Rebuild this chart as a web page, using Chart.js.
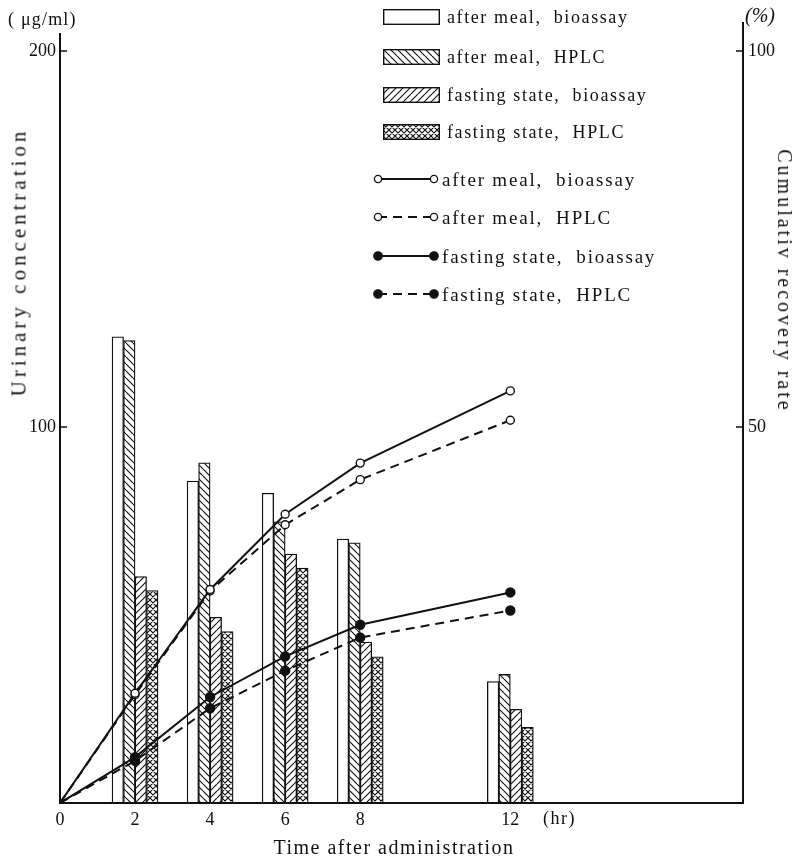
<!DOCTYPE html>
<html>
<head>
<meta charset="utf-8">
<script src="https://cdn.jsdelivr.net/npm/chart.js@4"></script>
<style>
  body { margin: 0; background: #fff; }
  #wrap { position: relative; width: 797px; height: 859px; font-family: "Liberation Serif", "DejaVu Serif", serif; color: #111; }
  #chart { position: absolute; left: 0; top: 0; }
  .txt { position: absolute; white-space: pre; line-height: 1; font-size: 18px; }
  .rot { transform: translate(-50%, -50%) rotate(-90deg); }
  .rot-r { transform: translate(-50%, -50%) rotate(90deg); }
  .row { position: absolute; display: flex; align-items: center; white-space: pre; line-height: 1; }
  .row canvas { display: block; }
</style>
</head>
<body>
<div id="wrap">
  <canvas id="chart" width="797" height="859"></canvas>
  <div class="txt" style="left:8px; top:10px; letter-spacing:1.2px;">( μg/ml)</div>
  <div class="txt" style="left:745px; top:5px; font-size:20px; font-style:italic;">(%)</div>
  <div class="txt" style="left:543px; top:809px; letter-spacing:1.5px;">(hr)</div>
  <div class="txt" style="left:394px; top:847px; transform:translate(-50%,-50%); font-size:20px; letter-spacing:1.5px;">Time after administration</div>
  <div class="txt rot" style="left:19px; top:262px; font-size:21px; letter-spacing:4px;">Urinary concentration</div>
  <div class="txt rot-r" style="left:785px; top:281px; font-size:20px; letter-spacing:3px;">Cumulativ recovery rate</div>
  <div id="legend"></div>
</div>
<script>
// Urinary concentration (µg/ml) per collection time, left axis
const hours = [2, 4, 6, 8, 12];
const mealBioassay = [124.0, 85.6, 82.4, 70.2, 32.3];
const mealHplc = [123.0, 90.5, 74.8, 69.2, 34.2];
const fastingBioassay = [60.2, 49.4, 66.2, 42.8, 24.9];
const fastingHplc = [56.5, 45.6, 62.5, 38.9, 20.1];

// Cumulative recovery rate (%), right axis
const recoveryHours = [0, 2, 4, 6, 8, 12];
const mealBioassayRate = [0, 14.6, 28.4, 38.4, 45.2, 54.8];
const mealHplcRate = [0, 14.4, 28.2, 37.0, 43.0, 50.9];
const fastingBioassayRate = [0, 6.1, 14.1, 19.5, 23.7, 28.0];
const fastingHplcRate = [0, 5.6, 12.6, 17.6, 22.0, 25.6];

const xTicks = [0, 2, 4, 6, 8, 12];
const concTicks = [100, 200];
const rateTicks = [50, 100];
const seriesNames = ['after meal, bioassay', 'after meal, HPLC', 'fasting state, bioassay', 'fasting state, HPLC'];

const INK = '#111';
const serif = '"Liberation Serif", "DejaVu Serif", serif';

// hatch fills: none, "\\", "//", cross
function makePattern(kind) {
  const s = kind === 'cross' ? 6 : 7;
  const c = document.createElement('canvas');
  c.width = s; c.height = s;
  const g = c.getContext('2d');
  g.fillStyle = '#fff';
  g.fillRect(0, 0, s, s);
  if (kind !== 'none') {
    g.strokeStyle = INK;
    g.lineWidth = 1.15;
    g.beginPath();
    for (const o of [-s, 0, s]) {
      if (kind === 'back' || kind === 'cross') { g.moveTo(o, 0); g.lineTo(o + s, s); }
      if (kind === 'fwd' || kind === 'cross') { g.moveTo(o, s); g.lineTo(o + s, 0); }
    }
    g.stroke();
  }
  return g.createPattern(c, 'repeat');
}
const hatchKinds = ['none', 'back', 'fwd', 'cross'];
const fills = hatchKinds.map(makePattern);

const barValues = [mealBioassay, mealHplc, fastingBioassay, fastingHplc];
const barSets = barValues.map((vals, i) => ({
  type: 'bar',
  label: seriesNames[i],
  data: hours.map((h, j) => ({ x: h, y: vals[j] })),
  backgroundColor: fills[i],
  borderColor: INK,
  borderWidth: 1.3,
  borderSkipped: 'bottom',
  barThickness: 11.5,
  yAxisID: 'y',
  order: 1
}));

const lineStyles = [
  { vals: mealBioassayRate, open: true, dash: [] },
  { vals: mealHplcRate, open: true, dash: [9, 6] },
  { vals: fastingBioassayRate, open: false, dash: [] },
  { vals: fastingHplcRate, open: false, dash: [9, 6] }
];
const lineSets = lineStyles.map((st, i) => ({
  type: 'line',
  label: seriesNames[i],
  data: recoveryHours.map((h, j) => ({ x: h, y: st.vals[j] })),
  borderColor: INK,
  borderWidth: 2,
  borderDash: st.dash,
  pointBackgroundColor: st.open ? '#fff' : INK,
  pointBorderColor: INK,
  pointBorderWidth: 1.4,
  pointRadius: ctx => (ctx.raw && ctx.raw.x === 0 ? 0 : (st.open ? 4 : 4.5)),
  tension: 0,
  yAxisID: 'y2',
  order: 0
}));

// axis lines, inward tick marks, dashed edge between the after-meal bars
const frame = {
  id: 'frame',
  afterDatasetDraw(chart, args) {
    if (args.index !== 0) return;
    const m0 = chart.getDatasetMeta(0).data;
    const m1 = chart.getDatasetMeta(1).data;
    const ctx = chart.ctx;
    ctx.save();
    ctx.strokeStyle = '#fff';
    ctx.lineWidth = 2.2;
    ctx.setLineDash([4, 8]);
    m1.forEach((el, i) => {
      const x = el.x - el.width / 2;
      const top = Math.max(el.y, m0[i].y) + 3;
      ctx.beginPath();
      ctx.moveTo(x, chart.chartArea.bottom - 2);
      ctx.lineTo(x, top);
      ctx.stroke();
    });
    ctx.restore();
  },
  afterDraw(chart) {
    const { ctx, chartArea: a, scales } = chart;
    ctx.save();
    ctx.strokeStyle = INK;
    ctx.lineWidth = 2;
    ctx.beginPath();
    ctx.moveTo(a.left, a.top - 18);
    ctx.lineTo(a.left, a.bottom);
    ctx.lineTo(a.right, a.bottom);
    ctx.lineTo(a.right, a.top - 29);
    ctx.stroke();
    ctx.lineWidth = 1.5;
    ctx.beginPath();
    concTicks.forEach(v => {
      const y = scales.y.getPixelForValue(v);
      ctx.moveTo(a.left, y); ctx.lineTo(a.left + 7, y);
    });
    rateTicks.forEach(v => {
      const y = scales.y2.getPixelForValue(v);
      ctx.moveTo(a.right, y); ctx.lineTo(a.right - 7, y);
    });
    ctx.stroke();
    ctx.restore();
  }
};

const tickFont = { family: serif, size: 18 };
const noGrid = { display: false, drawTicks: false };

new Chart(document.getElementById('chart'), {
  type: 'bar',
  data: { datasets: [...lineSets, ...barSets] },
  options: {
    responsive: false,
    animation: false,
    devicePixelRatio: 1,
    layout: { padding: { top: 51, left: 0, right: 0, bottom: 0 } },
    plugins: { legend: { display: false }, tooltip: { enabled: false } },
    scales: {
      x: {
        type: 'linear', min: 0, max: 18.2, offset: false,
        grid: noGrid, border: { display: false },
        afterBuildTicks: s => { s.ticks = xTicks.map(v => ({ value: v })); },
        ticks: { font: tickFont, color: INK, padding: 6, maxRotation: 0, autoSkip: false },
        afterFit: s => { s.height = 56; }
      },
      y: {
        position: 'left', min: 0, max: 200,
        grid: noGrid, border: { display: false },
        afterBuildTicks: s => { s.ticks = concTicks.map(v => ({ value: v })); },
        ticks: { font: tickFont, color: INK, padding: 4 },
        afterFit: s => { s.width = 60; }
      },
      y2: {
        position: 'right', min: 0, max: 100,
        grid: noGrid, border: { display: false },
        afterBuildTicks: s => { s.ticks = rateTicks.map(v => ({ value: v })); },
        ticks: { font: tickFont, color: INK, padding: 5 },
        afterFit: s => { s.width = 54; }
      }
    }
  },
  plugins: [frame]
});

// legend: bar swatches, then line samples
const legend = document.getElementById('legend');
const barRowY = [17, 57, 95, 132];
const lineRowY = [179, 217, 256, 294];

function addRow(left, cy, swatch, text, gap, size, spacing) {
  const row = document.createElement('div');
  row.className = 'row';
  row.style.left = left + 'px';
  row.style.top = (cy - swatch.height / 2) + 'px';
  row.style.height = swatch.height + 'px';
  row.style.fontSize = size + 'px';
  row.style.letterSpacing = spacing + 'px';
  swatch.style.marginRight = gap + 'px';
  row.appendChild(swatch);
  const span = document.createElement('span');
  span.textContent = text.replace(', ', ',  ');
  row.appendChild(span);
  legend.appendChild(row);
}

seriesNames.forEach((name, i) => {
  const c = document.createElement('canvas');
  c.width = 57; c.height = 16;
  const g = c.getContext('2d');
  g.fillStyle = makePattern(hatchKinds[i]);
  g.fillRect(0, 0, 57, 16);
  g.strokeStyle = INK;
  g.lineWidth = 1.4;
  g.strokeRect(0.7, 0.7, 55.6, 14.6);
  addRow(383, barRowY[i], c, name, 7, 18, 1.6);
});

lineStyles.forEach((st, i) => {
  const c = document.createElement('canvas');
  c.width = 68; c.height = 14;
  const g = c.getContext('2d');
  g.strokeStyle = INK;
  g.lineWidth = 2;
  g.setLineDash(st.dash);
  g.beginPath();
  g.moveTo(6, 7); g.lineTo(62, 7);
  g.stroke();
  g.setLineDash([]);
  [6, 62].forEach(x => {
    g.beginPath();
    g.arc(x, 7, st.open ? 3.6 : 4.2, 0, Math.PI * 2);
    g.fillStyle = st.open ? '#fff' : INK;
    g.fill();
    g.lineWidth = 1.3;
    g.stroke();
  });
  addRow(372, lineRowY[i], c, seriesNames[i], 2, 19, 1.8);
});
</script>
</body>
</html>
